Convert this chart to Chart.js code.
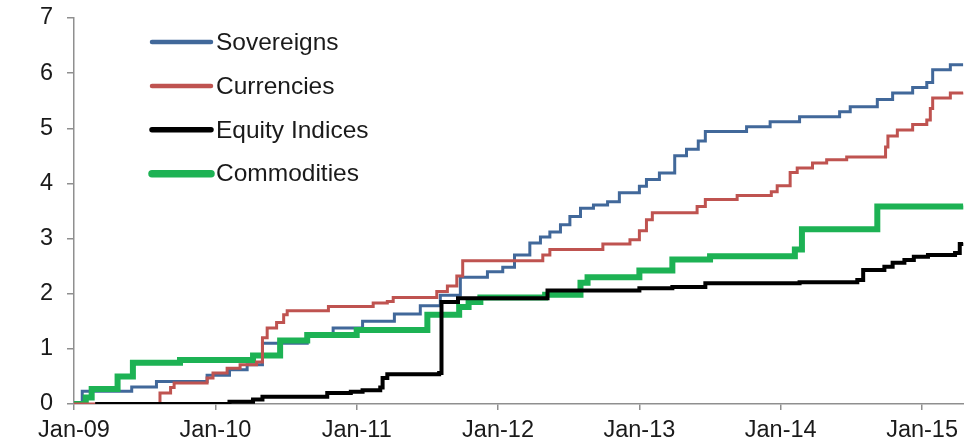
<!DOCTYPE html>
<html>
<head>
<meta charset="utf-8">
<title>Cumulative returns by asset class</title>
<script src="https://cdn.jsdelivr.net/npm/chart.js@4.4.1/dist/chart.umd.min.js"></script>
<style>
  html, body { margin: 0; padding: 0; background: #ffffff; }
  #wrap { width: 964px; height: 446px; }
</style>
</head>
<body>
<div id="wrap"><canvas id="riskChart" width="964" height="446"></canvas></div>
<script>
const xTickLabels = ["Jan-09", "Jan-10", "Jan-11", "Jan-12", "Jan-13", "Jan-14", "Jan-15"];
const yTickValues = [0, 1, 2, 3, 4, 5, 6, 7];

const sovereignMonths = [0, 0.7, 4.9, 7.0, 11.3, 13.2, 14.7, 16.0, 19.8, 22.0, 24.5, 27.2, 29.4, 31.1, 32.8, 35.1, 36.4, 37.4, 38.7, 39.6, 40.4, 41.3, 42.1, 43.0, 44.1, 45.3, 46.3, 48.0, 48.6, 49.7, 51.0, 52.0, 53.0, 53.6, 57.1, 59.1, 61.6, 65.0, 65.9, 68.2, 69.5, 71.2, 72.4, 72.9, 74.4, 75.5];
const sovereignValues = [0, 0.23, 0.31, 0.41, 0.52, 0.62, 0.71, 1.1, 1.28, 1.38, 1.5, 1.63, 1.78, 1.97, 2.3, 2.4, 2.48, 2.7, 2.92, 3.03, 3.12, 3.25, 3.4, 3.55, 3.61, 3.67, 3.83, 3.95, 4.07, 4.19, 4.5, 4.62, 4.77, 4.94, 5.03, 5.12, 5.21, 5.3, 5.39, 5.52, 5.64, 5.74, 5.83, 6.06, 6.15, 6.15];

const currencyMonths = [0, 6.7, 7.3, 8.2, 8.5, 11.3, 11.8, 13.0, 14.1, 15.5, 16.0, 16.4, 17.2, 17.8, 18.1, 21.6, 25.4, 26.6, 27.1, 30.8, 31.7, 32.5, 33.0, 39.8, 40.4, 44.9, 47.2, 48.0, 48.6, 49.1, 52.9, 53.6, 56.3, 59.2, 59.7, 60.8, 61.4, 62.7, 63.9, 65.6, 68.9, 69.1, 69.9, 71.2, 72.4, 72.7, 72.9, 74.4, 75.5];
const currencyValues = [0, 0, 0.2, 0.3, 0.38, 0.47, 0.56, 0.65, 0.71, 0.76, 1.2, 1.38, 1.48, 1.62, 1.69, 1.77, 1.83, 1.86, 1.93, 2.04, 2.14, 2.32, 2.6, 2.7, 2.8, 2.9, 2.98, 3.14, 3.34, 3.47, 3.58, 3.71, 3.78, 3.85, 3.96, 4.2, 4.28, 4.37, 4.43, 4.48, 4.66, 4.86, 4.97, 5.07, 5.15, 5.36, 5.55, 5.64, 5.65];

const equityMonths = [1.8, 13.2, 15.2, 16.0, 21.5, 23.5, 24.5, 26.0, 26.2, 26.6, 31.0, 31.2, 32.6, 40.2, 48.0, 50.8, 53.6, 61.6, 66.5, 67.0, 68.8, 69.5, 70.5, 71.3, 72.5, 74.8, 75.2, 75.5];
const equityValues = [0, 0.04, 0.08, 0.13, 0.2, 0.22, 0.25, 0.3, 0.47, 0.54, 0.56, 1.85, 1.92, 2.06, 2.1, 2.12, 2.19, 2.21, 2.25, 2.43, 2.49, 2.56, 2.61, 2.67, 2.7, 2.74, 2.9, 2.92];

const commodityMonths = [0, 1.0, 1.5, 3.7, 5.0, 9.0, 15.2, 17.5, 19.8, 24.0, 30.0, 32.7, 33.5, 34.5, 40.0, 43.0, 43.6, 48.0, 50.8, 54.0, 61.2, 61.8, 68.2, 75.5];
const commodityValues = [0, 0.12, 0.27, 0.5, 0.75, 0.8, 0.88, 1.15, 1.25, 1.34, 1.62, 1.76, 1.85, 1.93, 1.98, 2.2, 2.3, 2.42, 2.62, 2.68, 2.8, 3.17, 3.58, 3.6];

const seriesNames = ["Sovereigns", "Currencies", "Equity Indices", "Commodities"];
const seriesColors = ["#41689a", "#bf5350", "#000000", "#1db254"];
const seriesWidths = [3, 3, 4, 6];
const legendWidths = [4.5, 4.5, 5.5, 7.5];
const drawOrder = [3, 1, 0, 2]; // lower number is drawn on top

// turn month/value arrays into {x, y} points
function toPoints(months, values) {
  return months.map((m, i) => ({ x: m, y: values[i] }));
}

const allSeries = [
  toPoints(sovereignMonths, sovereignValues),
  toPoints(currencyMonths, currencyValues),
  toPoints(equityMonths, equityValues),
  toPoints(commodityMonths, commodityValues)
];

const datasets = seriesNames.map((name, i) => ({
  label: name,
  data: allSeries[i],
  borderColor: seriesColors[i],
  backgroundColor: seriesColors[i],
  borderWidth: seriesWidths[i],
  stepped: true,
  pointRadius: 0,
  fill: false,
  order: drawOrder[i]
}));

// legend sits inside the plot, lines with rounded ends like the original
const insideLegend = {
  id: 'insideLegend',
  afterDraw(chart) {
    const ctx = chart.ctx;
    seriesNames.forEach((name, i) => {
      const y = 42 + i * 43.9;
      ctx.save();
      ctx.strokeStyle = seriesColors[i];
      ctx.lineWidth = legendWidths[i];
      ctx.lineCap = 'round';
      ctx.beginPath();
      ctx.moveTo(152, y);
      ctx.lineTo(211, y);
      ctx.stroke();
      ctx.fillStyle = '#1a1a1a';
      ctx.font = '24.5px "Liberation Sans", Arial, sans-serif';
      ctx.textBaseline = 'middle';
      ctx.textAlign = 'left';
      ctx.fillText(name, 216, y + 1);
      ctx.restore();
    });
  }
};

const axisGray = '#8f8f8f';
const tickFont = { family: '"Liberation Sans", Arial, sans-serif', size: 23.5 };

new Chart(document.getElementById('riskChart').getContext('2d'), {
  type: 'line',
  data: { datasets: datasets },
  options: {
    responsive: false,
    animation: false,
    devicePixelRatio: 1,
    layout: { padding: { top: 18, right: 0, bottom: 0, left: 0 } },
    plugins: {
      legend: { display: false },
      tooltip: { enabled: false }
    },
    scales: {
      x: {
        type: 'linear',
        min: 0,
        max: 75.5,
        afterBuildTicks: scale => {
          scale.ticks = xTickLabels.map((_, i) => ({ value: i * 12 }));
        },
        afterFit: scale => { scale.height = 42; },
        ticks: {
          callback: value => xTickLabels[Math.round(value / 12)],
          color: '#1a1a1a',
          font: tickFont,
          padding: 6,
          maxRotation: 0,
          autoSkip: false
        },
        grid: {
          drawOnChartArea: false,
          drawTicks: true,
          tickLength: 6,
          color: axisGray,
          lineWidth: 1.5
        },
        border: { display: true, color: axisGray, width: 1.5 }
      },
      y: {
        min: 0,
        max: 7,
        afterBuildTicks: scale => {
          scale.ticks = yTickValues.map(v => ({ value: v }));
        },
        // fixed width, and no extra label padding so "7" sits at y = 18
        afterFit: scale => {
          scale.width = 74;
          scale.paddingTop = 0;
          scale.paddingBottom = 0;
        },
        ticks: {
          color: '#1a1a1a',
          font: tickFont,
          padding: 14
        },
        grid: {
          drawOnChartArea: false,
          drawTicks: true,
          tickLength: 7,
          color: axisGray,
          lineWidth: 1.5
        },
        border: { display: true, color: axisGray, width: 1.5 }
      }
    }
  },
  plugins: [insideLegend]
});
</script>
</body>
</html>
